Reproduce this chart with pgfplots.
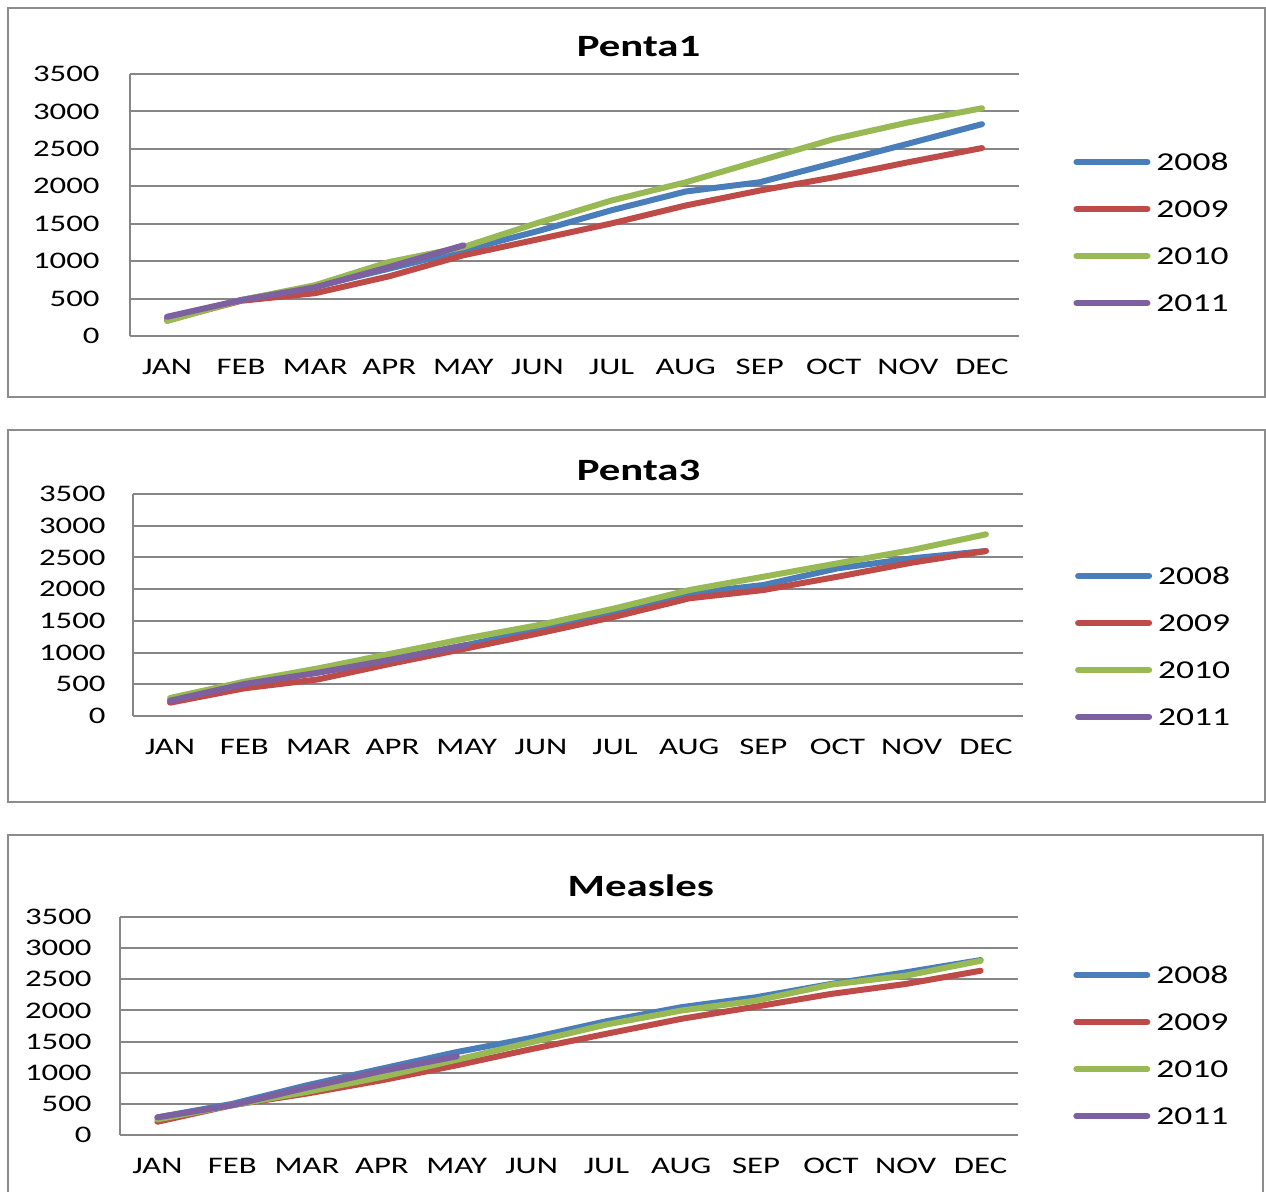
\documentclass[border=0pt]{standalone}
\usepackage{fontspec}
\setmainfont{Carlito}[FakeStretch=1.38]
\usepackage{pgfplots}
\pgfplotsset{compat=1.18}
\definecolor{c08}{HTML}{4A7EBB}
\definecolor{c09}{HTML}{BE4B48}
\definecolor{c10}{HTML}{98B954}
\definecolor{c11}{HTML}{7D60A0}
\definecolor{gridc}{HTML}{868686}
\definecolor{framec}{HTML}{8C8C8C}
\pgfplotsset{panel/.style={
  scale only axis, anchor=north west,
  xmin=-0.5, xmax=11.5, ymin=0, ymax=3500,
  xtick={0,...,11},
  xticklabels={JAN,FEB,MAR,APR,MAY,JUN,JUL,AUG,SEP,OCT,NOV,DEC},
  ytick={0,500,...,3500},
  axis x line=bottom, axis y line=left,
  axis line style={-, gridc, line width=0.9pt},
  ymajorgrids, major grid style={gridc, line width=0.8pt},
  major tick length=0pt,
  /pgf/number format/assume math mode=true,
  /pgf/number format/1000 sep={},
  tick label style={font=\fontsize{9.5}{11}\selectfont, inner sep=0pt, text=black},
  xticklabel style={anchor=center, yshift=-12.4pt},
  every axis plot/.append style={line width=2.4pt, line cap=round, line join=round, no marks},
  legend cell align=left,
  legend style={draw=none, fill=none, inner sep=0pt, row sep=11.9pt, column sep=2.4pt,
    font=\fontsize{10.3}{12}\selectfont, anchor=west,
    nodes={inner sep=0pt, text height=6.9pt, text depth=0pt}},
  legend image code/.code={\draw[#1] (1.2pt,0pt) -- (29.6pt,0pt);},
  title style={anchor=center, font=\bfseries\fontsize{12.4}{14}\selectfont, inner sep=0pt},
}}
\begin{document}
\begin{tikzpicture}
\useasboundingbox (0pt,0pt) rectangle (506.4pt,-476.8pt);
\draw[framec, line width=0.8pt] (3.2pt,-3.2pt) rectangle (506pt,-158.8pt);
\draw[framec, line width=0.8pt] (3.2pt,-172pt) rectangle (506pt,-320.8pt);
\draw[framec, line width=0.8pt] (3.2pt,-334pt) rectangle (505.2pt,-484pt);

% Penta1
\begin{axis}[panel, at={(52pt,-29.6pt)}, width=355.6pt, height=104.8pt,
  title={Penta1}, title style={at={(0.572,1)}, yshift=4.9pt},
  yticklabel style={anchor=east, xshift=-12pt},
  legend style={at={(1.0607,0.395)}}]
\addplot[c08] coordinates {(0,230)(1,480)(2,660)(3,900)(4,1144)(5,1400)(6,1680)(7,1930)(8,2054)(9,2311)(10,2568)(11,2830)};
\addplot[c09] coordinates {(0,210)(1,470)(2,572)(3,798)(4,1078)(5,1290)(6,1504)(7,1743)(8,1943)(9,2120)(10,2320)(11,2511)};
\addplot[c10] coordinates {(0,200)(1,480)(2,679)(3,989)(4,1188)(5,1510)(6,1810)(7,2053)(8,2342)(9,2631)(10,2852)(11,3043)};
\addplot[c11] coordinates {(0,257)(1,479)(2,650)(3,922)(4,1211)};
\legend{2008,2009,2010,2011}
\end{axis}

% Penta3
\begin{axis}[panel, at={(53.2pt,-197.6pt)}, width=356pt, height=88.8pt,
  title={Penta3}, title style={at={(0.568,1)}, yshift=3.6pt},
  yticklabel style={anchor=east, xshift=-10.8pt},
  legend style={at={(1.058,0.313)}}]
\addplot[c08] coordinates {(0,240)(1,500)(2,690)(3,900)(4,1120)(5,1370)(6,1619)(7,1934)(8,2065)(9,2328)(10,2486)(11,2601)};
\addplot[c09] coordinates {(0,210)(1,436)(2,578)(3,830)(4,1067)(5,1310)(6,1566)(7,1855)(8,1986)(9,2196)(10,2417)(11,2601)};
\addplot[c10] coordinates {(0,284)(1,541)(2,752)(3,988)(4,1225)(5,1440)(6,1698)(7,1986)(8,2196)(9,2407)(10,2617)(11,2864)};
\addplot[c11] coordinates {(0,241)(1,504)(2,683)(3,893)(4,1119)};
\legend{2008,2009,2010,2011}
\end{axis}

% Measles
\begin{axis}[panel, at={(48pt,-366.8pt)}, width=359.2pt, height=87.2pt,
  title={Measles}, title style={at={(0.580,1)}, yshift=6.4pt},
  yticklabel style={anchor=east, xshift=-11.2pt},
  legend style={at={(1.061,0.41)}}]
\addplot[c08] coordinates {(0,283)(1,500)(2,799)(3,1066)(4,1332)(5,1560)(6,1827)(7,2052)(8,2212)(9,2425)(10,2612)(11,2809)};
\addplot[c09] coordinates {(0,213)(1,479)(2,666)(3,879)(4,1119)(5,1380)(6,1625)(7,1865)(8,2062)(9,2265)(10,2425)(11,2637)};
\addplot[c10] coordinates {(0,250)(1,479)(2,693)(3,933)(4,1209)(5,1490)(6,1774)(7,1998)(8,2158)(9,2414)(10,2558)(11,2797)};
\addplot[c11] coordinates {(0,283)(1,479)(2,762)(3,1029)(4,1263)};
\legend{2008,2009,2010,2011}
\end{axis}
\end{tikzpicture}
\end{document}
